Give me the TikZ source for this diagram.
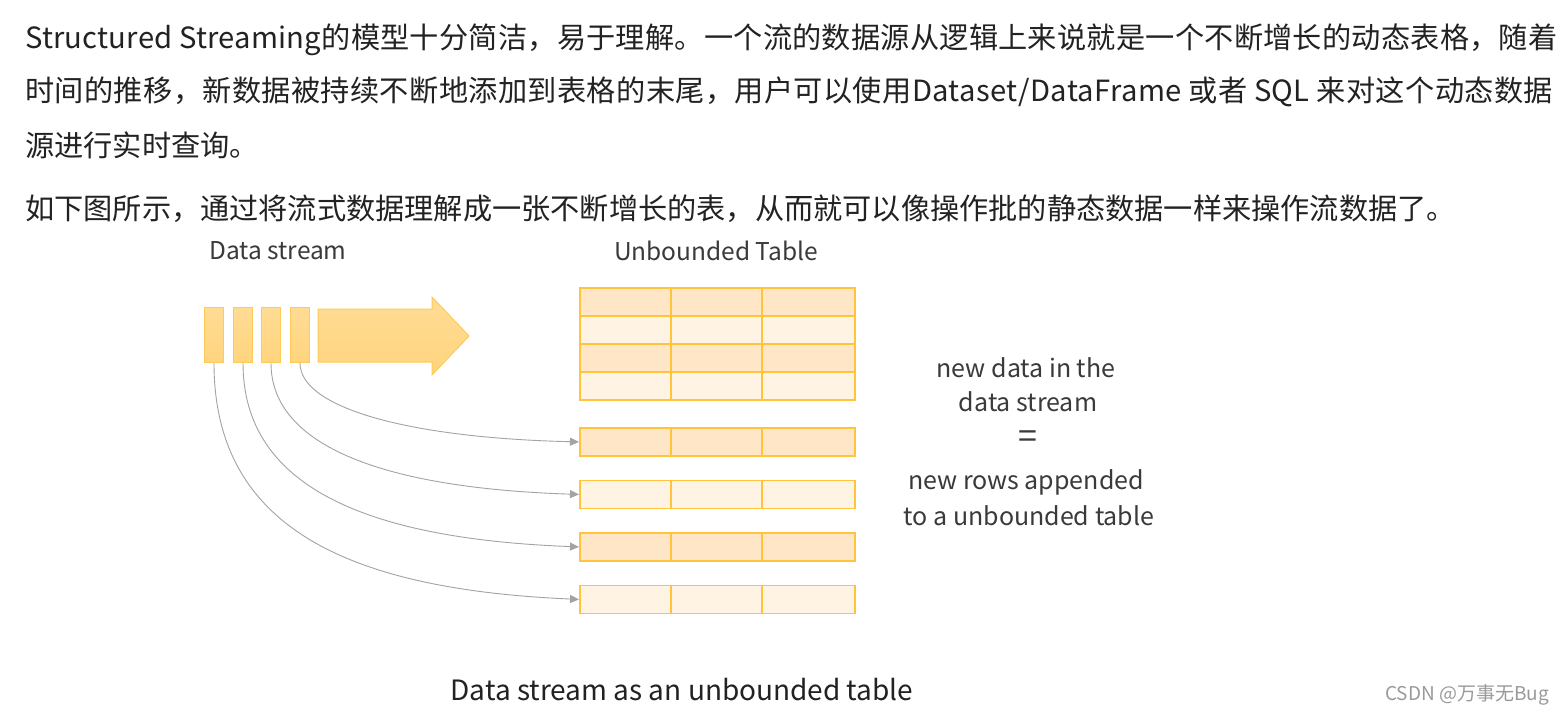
\documentclass[tikz,border=0pt]{standalone}
\usepackage{fontspec}
\setmainfont{Noto Sans CJK SC}
\usetikzlibrary{arrows.meta}
\definecolor{txt}{HTML}{222222}
\definecolor{lbl}{HTML}{3A3A3A}
\definecolor{tabline}{HTML}{FFC43A}
\definecolor{peach}{HTML}{FFE6C7}
\definecolor{pale}{HTML}{FFF3E3}
\definecolor{strtop}{HTML}{FFDC94}
\definecolor{strbot}{HTML}{FFD47E}
\definecolor{strline}{HTML}{FFCB55}
\definecolor{conn}{HTML}{A3A3A3}
\definecolor{wm}{HTML}{9A9A9A}
\tikzset{
  para/.style={anchor=base west, inner sep=0, font=\fontsize{29.2}{29.2}\selectfont, text=txt},
  lab/.style={inner sep=0, font=\fontsize{24.5}{24.5}\selectfont, text=lbl},
  sidelab/.style={inner sep=0, font=\fontsize{25}{25}\selectfont, text=lbl},
  cellrow/.style={draw=tabline, line width=1.8pt, minimum width=275pt, minimum height=28pt, inner sep=0, anchor=north west},
  strbox/.style={draw=strline, line width=1pt, top color=strtop, bottom color=strbot, minimum width=19pt, minimum height=55pt, inner sep=0, anchor=north west},
  connector/.style={draw=conn, line width=0.9pt, -{Triangle[length=9pt,width=8pt]}},
}
\begin{document}
\begin{tikzpicture}[x=1pt,y=-1pt]
\useasboundingbox (0,0) rectangle (1566,716);
\fill[white] (0,0) rectangle (1566,716);
% paragraph text
\node[para] (p1) at (25,48) {\addfontfeature{LetterSpace=0.8}Structured Streaming的模型十分简洁，易于理解。一个流的数据源从逻辑上来说就是一个不断增长的动态表格，随着};
\node[para] (p2) at (25,101) {\addfontfeature{LetterSpace=1.25}时间的推移，新数据被持续不断地添加到表格的末尾，用户可以使用Dataset/DataFrame 或者 SQL 来对这个动态数据};
\node[para] (p3) at (25,156) {源进行实时查询。};
\node[para] (p4) at (25,219) {如下图所示，通过将流式数据理解成一张不断增长的表，从而就可以像操作批的静态数据一样来操作流数据了。};
% labels
\node[lab] (ds) at (278,251) {Data stream};
\node[lab] (ut) at (716,251) {Unbounded Table};
% stream boxes
\node[strbox] (s1) at (204,307) {};
\node[strbox] (s2) at (233,307) {};
\node[strbox] (s3) at (261,307) {};
\node[strbox] (s4) at (290,307) {};
% big arrow
\path[draw=strline, line width=1pt, top color=strtop, bottom color=strbot]
  (318,309) -- (432,309) -- (432,297) -- (469,336) -- (432,375) -- (432,362) -- (318,362) -- cycle;
% top table
\node[cellrow, fill=peach] (t1) at (579,287) {};
\node[cellrow, fill=pale]  (t2) at (579,315) {};
\node[cellrow, fill=peach] (t3) at (579,343) {};
\node[cellrow, fill=pale]  (t4) at (579,371) {};
\draw[tabline, line width=1.8pt] (t1.north west) ++(92,0) -- ++(0,112);
\draw[tabline, line width=1.8pt] (t1.north west) ++(183,0) -- ++(0,112);
% new rows
\node[cellrow, fill=peach] (r1) at (579,427) {};
\node[cellrow, fill=pale]  (r2) at (579,479.5) {};
\node[cellrow, fill=peach] (r3) at (579,532) {};
\node[cellrow, fill=pale]  (r4) at (579,584.5) {};
\foreach \r in {r1,r2,r3,r4}{
  \draw[tabline, line width=1.8pt] (\r.north west) ++(92,0) -- ++(0,28);
  \draw[tabline, line width=1.8pt] (\r.north west) ++(183,0) -- ++(0,28);
}
% connectors
\draw[connector] (s4.south) .. controls +(0,45) and +(-170,-4) .. (r1.west);
\draw[connector] (s3.south) .. controls +(0,85) and +(-190,-6) .. (r2.west);
\draw[connector] (s2.south) .. controls +(0,125) and +(-210,-8) .. (r3.west);
\draw[connector] (s1.south) .. controls +(0,165) and +(-230,-10) .. (r4.west);
% side text
\node[sidelab] (n1) at (1026,368) {new data in the};
\node[sidelab] (n2) at (1028,402) {data stream};
\node[sidelab, font=\fontsize{34}{34}\selectfont] (n3) at (1028,440) {=};
\node[sidelab] (n4) at (1026,482) {new rows appended};
\node[sidelab] (n5) at (1029,516) {to a unbounded table};
% caption
\node[inner sep=0, font=\fontsize{28}{28}\selectfont, text=txt] (cap) at (682,690) {Data stream as an unbounded table};
% watermark
\node[inner sep=0, font=\fontsize{19}{19}\selectfont, text=wm] (wmk) at (1467,695) {CSDN @万事无Bug};
\end{tikzpicture}
\end{document}
